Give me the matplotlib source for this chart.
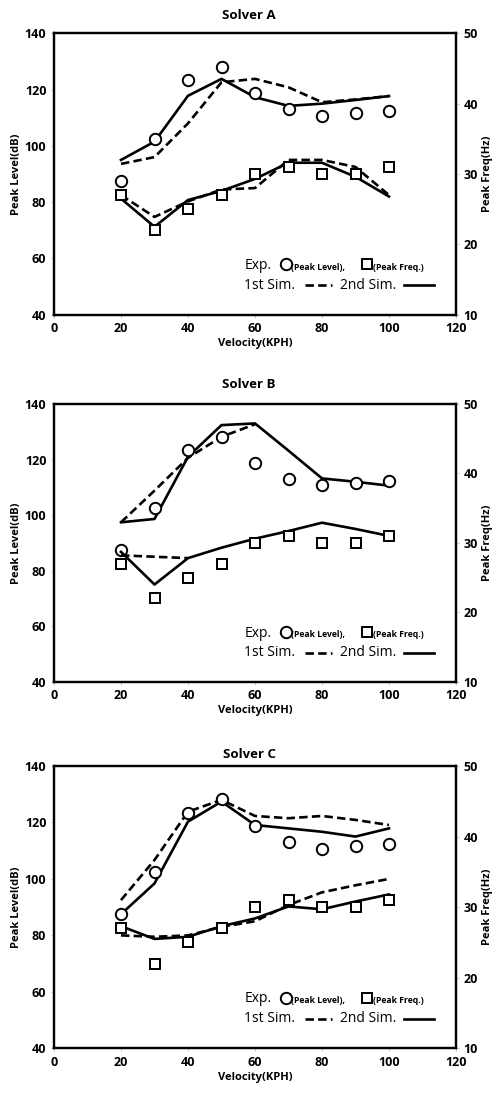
import numpy as np
import matplotlib
matplotlib.use("Agg")
import matplotlib.pyplot as plt
from matplotlib.lines import Line2D

plt.rcParams["font.family"] = ["Open Sans", "DejaVu Sans"]

velocity = [20, 30, 40, 50, 60, 70, 80, 90, 100]

# experiment (same in all three panels)
exp_level = [87.5, 102.4, 123.4, 128.2, 118.9, 113.0, 110.7, 111.6, 112.4]   # dB
exp_freq = [27.0, 22.0, 25.0, 27.0, 30.0, 31.0, 30.0, 30.0, 31.0]           # Hz

# Solver A
a_level_1st = [93.6, 96.0, 108.0, 122.6, 123.8, 120.8, 115.5, 116.5, 117.7]
a_level_2nd = [95.0, 101.5, 117.8, 123.8, 117.3, 114.2, 115.0, 116.3, 117.7]
a_freq_1st = [27.0, 23.9, 26.1, 27.8, 28.0, 32.0, 32.0, 31.0, 27.0]
a_freq_2nd = [26.5, 22.5, 26.3, 27.6, 29.3, 31.6, 31.6, 29.6, 26.8]

# Solver B (1st sim only reported up to 60 KPH)
b_level_1st = [97.4, 108.8, 120.6, 128.2, 132.7, np.nan, np.nan, np.nan, np.nan]
b_level_2nd = [97.4, 98.6, 121.0, 132.4, 133.0, 123.2, 113.2, 112.0, 110.6]
b_freq_1st = [28.2, 28.0, 27.8, np.nan, np.nan, np.nan, np.nan, np.nan, np.nan]
b_freq_2nd = [28.7, 24.0, 27.8, 29.3, 30.6, 31.7, 32.9, 32.0, 31.0]

# Solver C
c_level_1st = [92.5, 106.7, 123.8, 128.0, 122.3, 121.5, 122.3, 120.9, 119.1]
c_level_2nd = [87.5, 98.4, 120.3, 127.4, 119.1, 117.9, 116.7, 115.0, 117.9]
c_freq_1st = [26.0, 25.8, 26.0, 27.2, 28.0, 30.3, 32.1, 33.1, 34.0]
c_freq_2nd = [27.3, 25.5, 25.8, 27.3, 28.4, 30.1, 29.7, 30.8, 31.8]

titles = ["Solver A", "Solver B", "Solver C"]
panels = [
    (a_level_1st, a_level_2nd, a_freq_1st, a_freq_2nd),
    (b_level_1st, b_level_2nd, b_freq_1st, b_freq_2nd),
    (c_level_1st, c_level_2nd, c_freq_1st, c_freq_2nd),
]

W, H = 498, 1095
fig = plt.figure(figsize=(W / 100, H / 100), dpi=100)

# axes boxes in pixels: (top, bottom)
boxes = [(33.3, 314.7), (404, 681.7), (766, 1048.3)]
left_px, right_px = 54, 456
title_y = [15.7, 385, 754]

lw = 1.9
dash = (0, (3.2, 1.6))
for i, (top, bot) in enumerate(boxes):
    ax = fig.add_axes([left_px / W, 1 - bot / H, (right_px - left_px) / W, (bot - top) / H])
    ax2 = ax.twinx()
    lvl1, lvl2, fr1, fr2 = panels[i]

    ax.plot(velocity, lvl1, color="black", lw=lw, ls=dash)
    ax.plot(velocity, lvl2, color="black", lw=lw)
    ax2.plot(velocity, fr1, color="black", lw=lw, ls=dash)
    ax2.plot(velocity, fr2, color="black", lw=lw)
    ax.plot(velocity, exp_level, ls="none", marker="o", ms=8.2,
            mfc="white", mec="black", mew=1.4)
    ax2.plot(velocity, exp_freq, ls="none", marker="s", ms=7.4,
             mfc="white", mec="black", mew=1.4)

    ax.set_xlim(0, 120)
    ax.set_ylim(40, 140)
    ax2.set_ylim(10, 50)
    ax.set_xticks(range(0, 121, 20))
    ax.set_yticks(range(40, 141, 20))
    ax2.set_yticks(range(10, 51, 10))

    for a in (ax, ax2):
        for s in a.spines.values():
            s.set_linewidth(1.6)
        a.tick_params(length=2.5, width=0.6, color="#bbbbbb", labelsize=9, pad=3)
        for t in a.get_xticklabels() + a.get_yticklabels():
            t.set_fontweight("bold")

    ax.set_xlabel("Velocity(KPH)", fontsize=8, fontweight="bold", labelpad=2)
    ax.set_ylabel("Peak Level(dB)", fontsize=8, fontweight="bold", labelpad=2)
    ax2.set_ylabel("Peak Freq(Hz)", fontsize=8, fontweight="bold", labelpad=3)

    fig.text(249 / W, 1 - title_y[i] / H, titles[i], ha="center", va="center",
             fontsize=9.5, fontweight="bold")

    # hand-made legend in axes fraction
    tr = ax.transAxes
    y1, y2 = 0.175, 0.105
    ax.text(0.473, y1, "Exp.", transform=tr, fontsize=10, va="center")
    ax.add_line(Line2D([0.577], [y1 + 0.004], transform=tr, marker="o", ms=8.2,
                       mfc="white", mec="black", mew=1.4, ls="none"))
    ax.text(0.589, y1 - 0.006, "(Peak Level),", transform=tr, fontsize=6.2,
            fontweight="bold", va="center")
    ax.add_line(Line2D([0.778], [y1 + 0.004], transform=tr, marker="s", ms=7.4,
                       mfc="white", mec="black", mew=1.4, ls="none"))
    ax.text(0.793, y1 - 0.006, "(Peak Freq.)", transform=tr, fontsize=6.2,
            fontweight="bold", va="center")
    ax.text(0.473, y2, "1st Sim.", transform=tr, fontsize=10, va="center")
    ax.add_line(Line2D([0.624, 0.691], [y2, y2], transform=tr, color="black",
                       lw=lw, ls=dash))
    ax.text(0.712, y2, "2nd Sim.", transform=tr, fontsize=10, va="center")
    ax.add_line(Line2D([0.870, 0.945], [y2, y2], transform=tr, color="black", lw=lw))

fig.savefig("out.png", dpi=100)
